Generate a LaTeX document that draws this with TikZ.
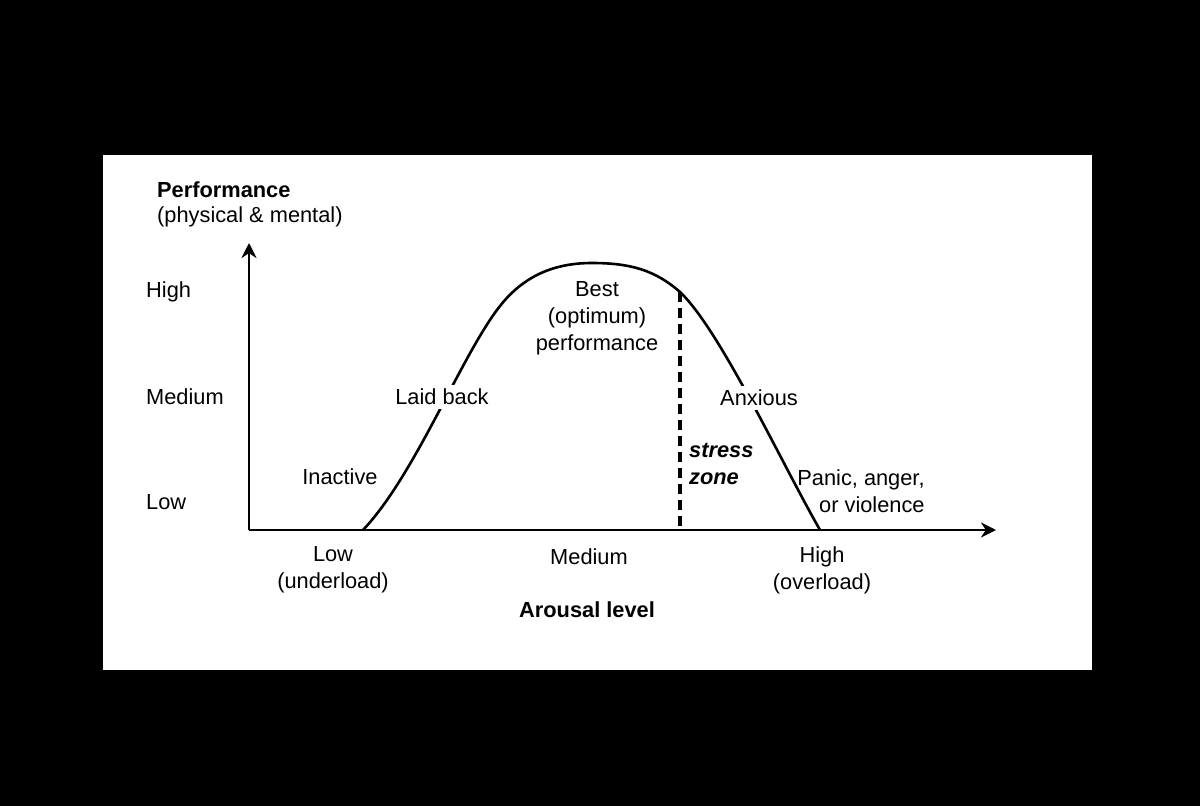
\documentclass[tikz,border=0pt]{standalone}
\usepackage{fontspec}
\setmainfont{Liberation Sans}
\usetikzlibrary{arrows.meta}
\begin{document}
\begin{tikzpicture}[x=1pt,y=-1pt,
  lbl/.style={font=\fontsize{21.8}{27}\selectfont, inner sep=1pt, align=center},
  blbl/.style={lbl, font=\fontsize{21.8}{27}\selectfont\bfseries},
  axis/.style={line width=2.6pt, -{Stealth[length=15pt,width=15pt]}},
  curve/.style={line width=2.6pt, line join=round},
  zone/.style={line width=3.2pt, dash pattern=on 10pt off 6pt}]
\fill[black] (0,0) rectangle (1200,806);
\fill[white] (103,155) rectangle (1092,670);
\useasboundingbox (0,0) rectangle (1200,806);
% axes
\coordinate (O) at (249,530);
\coordinate (ytop) at (249,243);
\coordinate (xend) at (996,530);
\draw[axis] (O) -- (ytop);
\draw[axis] (O) -- (xend);
% curve
\coordinate (c0) at (363,530);
\coordinate (c1) at (505,300);
\coordinate (c2) at (592,263);
\coordinate (ztop) at (680,292);
\coordinate (c4) at (820,530);
\draw[curve] (c0) .. controls (418,472) and (465,345) .. (c1)
  .. controls (530,272) and (560,263) .. (c2)
  .. controls (630,263) and (655,270) .. (ztop)
  .. controls (720,330) and (780,460) .. (c4);
% dashed stress zone line
\coordinate (zbot) at (680,530);
\draw[zone] (ztop) -- (zbot);
% axis title
\node[blbl, anchor=west] (perf) at (156,190) {Performance};
\node[lbl, anchor=west] (perfsub) at (156,217) {(physical \& mental)};
% y labels
\node[lbl, anchor=west] (yhigh) at (145,292) {High};
\node[lbl, anchor=west] (ymed) at (145,397) {Medium};
\node[lbl, anchor=west] (ylow) at (145,502) {Low};
% curve labels
\node[lbl] (best) at (597,318) {Best\\(optimum)\\performance};
\node[lbl, fill=white, inner sep=4pt] (laid) at (442,397) {Laid back};
\node[lbl, fill=white, inner sep=4pt] (anx) at (759,398) {Anxious};
\node[lbl] (inact) at (340,477) {Inactive};
\node[lbl, anchor=west, font=\fontsize{21.8}{27}\selectfont\bfseries\itshape, align=left] (stress) at (688,464) {stress\\zone};
\node[lbl, align=right] (panic) at (861,491) {Panic, anger,\\or violence};
% x labels
\node[lbl] (xlow) at (333,570) {Low\\(underload)};
\node[lbl] (xmed) at (589,557) {Medium};
\node[lbl] (xhigh) at (822,570) {High\\(overload)};
\node[blbl] (xtitle) at (587,610) {Arousal level};
\end{tikzpicture}
\end{document}
